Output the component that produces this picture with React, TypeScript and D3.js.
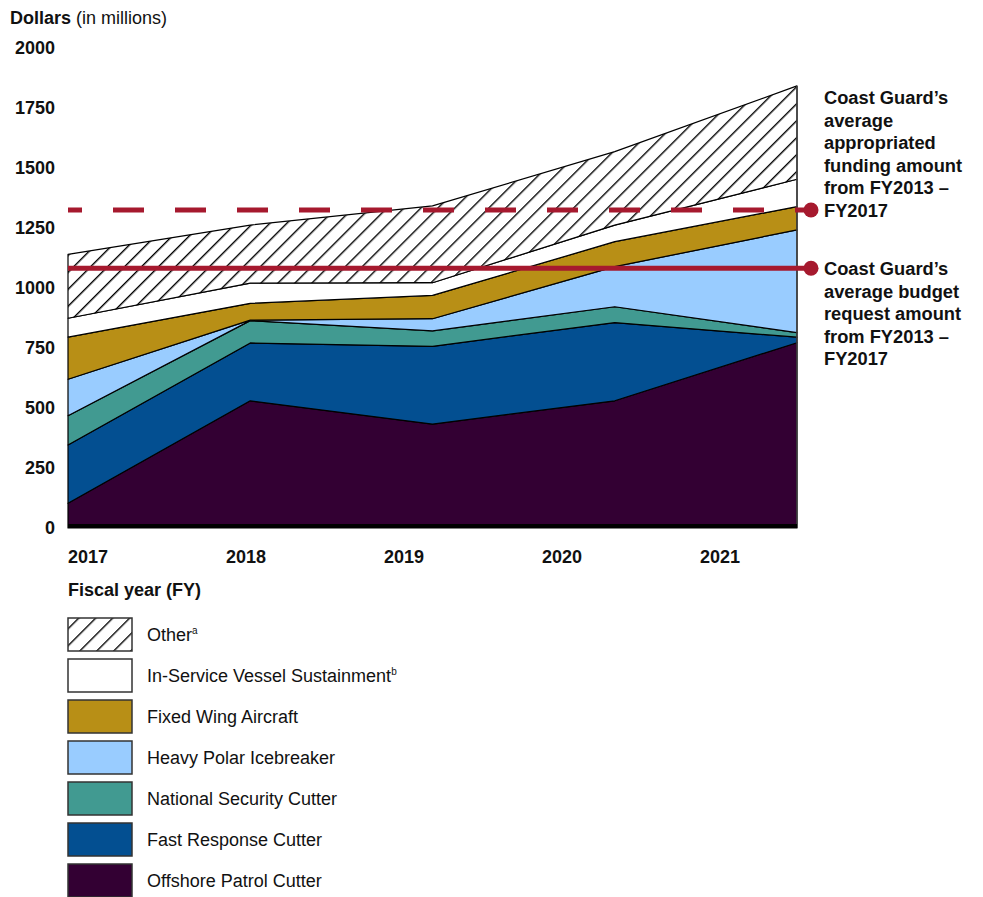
import * as d3 from "d3"

const YEARS = ["2017", "2018", "2019", "2020", "2021"]

const SERIES = [
  "Offshore Patrol Cutter",
  "Fast Response Cutter",
  "National Security Cutter",
  "Heavy Polar Icebreaker",
  "Fixed Wing Aircraft",
  "In-Service Vessel Sustainment",
  "Other",
]

// dollars in millions
const OPC = [103, 530, 433, 530, 772]
const FRC = [243, 241, 324, 326, 23]
const NSC = [122, 93, 64, 66, 19]
const HPI = [152, 2, 51, 167, 428]
const FWA = [175, 70, 97, 104, 97]
const ISVS = [79, 84, 53, 69, 114]
const OTHER = [266, 242, 320, 306, 389]

const Y_TICKS = [0, 250, 500, 750, 1000, 1250, 1500, 1750, 2000]

const AVG_APPROPRIATED = 1325
const AVG_REQUEST = 1082

const COLORS = ["#330033", "#034f91", "#419a91", "#99ccff", "#b88f16", "#ffffff", "url(#hatch)"]

const LEGEND_ORDER = [6, 5, 4, 3, 2, 1, 0]
const SUPERS: Record<number, string> = { 6: "a", 5: "b" }

const NOTE_APPROP = ["Coast Guard\u2019s", "average", "appropriated", "funding amount", "from FY2013 \u2013", "FY2017"]
const NOTE_REQUEST = ["Coast Guard\u2019s", "average budget", "request amount", "from FY2013 \u2013", "FY2017"]

const FONT = "'Liberation Sans', Arial, sans-serif"
const RED = "#a6192e"

export default function App() {
  const left = 68
  const right = 797
  const top = 48
  const bottom = 528

  const rows = YEARS.map((_, i) => ({
    i,
    s0: OPC[i],
    s1: FRC[i],
    s2: NSC[i],
    s3: HPI[i],
    s4: FWA[i],
    s5: ISVS[i],
    s6: OTHER[i],
  }))
  const keys = ["s0", "s1", "s2", "s3", "s4", "s5", "s6"]
  const stacked = d3.stack<any>().keys(keys)(rows)

  const x = d3.scaleLinear().domain([0, YEARS.length - 1]).range([left, right])
  const y = d3.scaleLinear().domain([0, 2000]).range([bottom, top])
  const xLabel = d3.scalePoint<string>().domain(YEARS).range([88, 720])

  const area = d3
    .area<any>()
    .x((d) => x(d.data.i))
    .y0((d) => y(d[0]))
    .y1((d) => y(d[1]))

  const lastTotal = stacked[stacked.length - 1][YEARS.length - 1][1]
  const dotX = 811

  return (
    <svg
      width={983}
      height={897}
      style={{ position: "absolute", left: 0, top: 0, fontFamily: FONT }}
    >
      <defs>
        <pattern id="hatch" width={12} height={12} patternUnits="userSpaceOnUse" patternTransform="rotate(45)">
          <rect width={12} height={12} fill="#fff" />
          <line x1={0.7} y1={0} x2={0.7} y2={12} stroke="#000" strokeWidth={1.4} />
        </pattern>
      </defs>

      <text x={10} y={24} fontSize={18} fill="#111">
        <tspan fontWeight="bold">Dollars</tspan>
        <tspan> (in millions)</tspan>
      </text>

      {Y_TICKS.map((t) => (
        <text key={t} x={55} y={y(t)} dy="0.36em" textAnchor="end" fontSize={18} fontWeight="bold" fill="#111">
          {t}
        </text>
      ))}

      {stacked.map((s, i) => (
        <path key={s.key} d={area(s) ?? ""} fill={COLORS[i]} stroke="#000" strokeWidth={1.2} strokeLinejoin="round" />
      ))}

      <line x1={right} x2={right} y1={y(lastTotal)} y2={bottom} stroke="#444" strokeWidth={1.5} />
      <rect x={left} y={bottom - 4} width={right - left} height={4} fill="#000" />

      <line x1={left} x2={dotX} y1={y(AVG_APPROPRIATED)} y2={y(AVG_APPROPRIATED)} stroke={RED} strokeWidth={5} strokeDasharray="31 31" strokeDashoffset={17} />
      <circle cx={dotX} cy={y(AVG_APPROPRIATED)} r={7.5} fill={RED} />
      <line x1={left} x2={dotX} y1={y(AVG_REQUEST)} y2={y(AVG_REQUEST)} stroke={RED} strokeWidth={5} />
      <circle cx={dotX} cy={y(AVG_REQUEST)} r={7.5} fill={RED} />

      <text x={824} y={104} fontSize={18.3} fontWeight="bold" fill="#111">
        {NOTE_APPROP.map((l, i) => (
          <tspan key={i} x={824} dy={i === 0 ? 0 : 22.6}>{l}</tspan>
        ))}
      </text>
      <text x={824} y={275} fontSize={18.3} fontWeight="bold" fill="#111">
        {NOTE_REQUEST.map((l, i) => (
          <tspan key={i} x={824} dy={i === 0 ? 0 : 22.6}>{l}</tspan>
        ))}
      </text>

      {YEARS.map((yr) => (
        <text key={yr} x={xLabel(yr)} y={563} textAnchor="middle" fontSize={18} fontWeight="bold" fill="#111">
          {yr}
        </text>
      ))}
      <text x={68} y={596} fontSize={18} fontWeight="bold" fill="#111">Fiscal year (FY)</text>

      {LEGEND_ORDER.map((si, row) => {
        const ly = 618 + row * 41
        return (
          <g key={si}>
            <rect x={68} y={ly} width={64} height={33} fill={COLORS[si]} stroke="#333" strokeWidth={1.5} />
            <text x={147} y={ly + 16.5} dy="0.36em" fontSize={18} fill="#111">
              {SERIES[si]}
              {SUPERS[si] && <tspan fontSize={10} dy={-7}>{SUPERS[si]}</tspan>}
            </text>
          </g>
        )
      })}
    </svg>
  )
}
